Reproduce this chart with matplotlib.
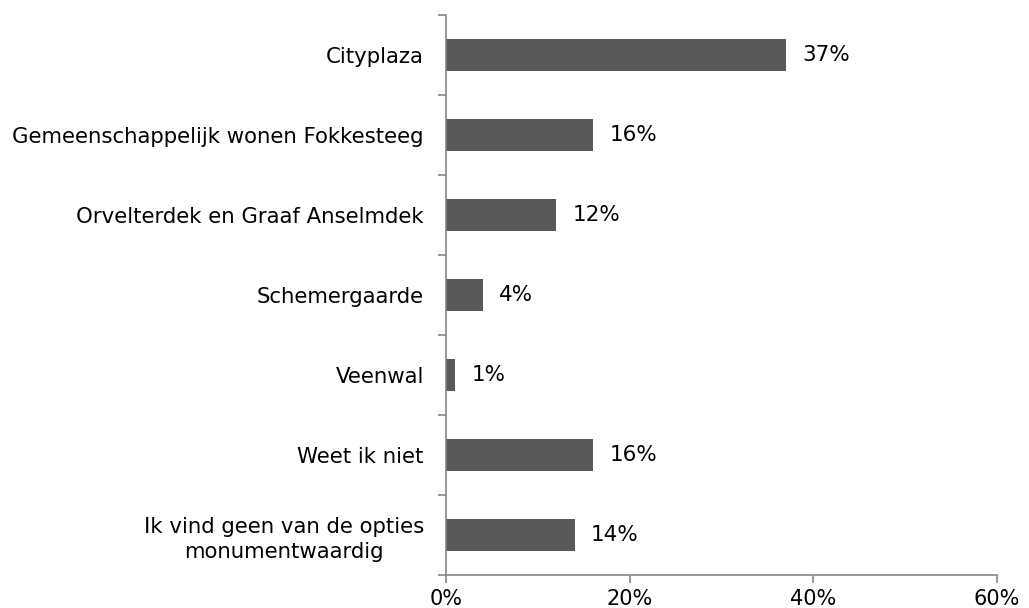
import matplotlib
matplotlib.use("Agg")
import matplotlib.pyplot as plt
import matplotlib.ticker as mticker
import numpy as np

plt.rcParams.update({
    "font.family": "sans-serif",
    "font.sans-serif": ["DejaVu Sans"],
})

# --- Data ---
categories = [
    "Cityplaza",
    "Gemeenschappelijk wonen Fokkesteeg",
    "Orvelterdek en Graaf Anselmdek",
    "Schemergaarde",
    "Veenwal",
    "Weet ik niet",
    "Ik vind geen van de opties\nmonumentwaardig",
]
values = [37, 16, 12, 4, 1, 16, 14]
x_ticks = [0, 20, 40, 60]

bar_color = "#595959"
axis_color = "#868686"

fig = plt.figure(figsize=(10.29, 6.08), dpi=100)
ax = fig.add_axes([446 / 1029, 1 - 575 / 608, 551 / 1029, 560 / 608])

y = np.arange(len(categories))
ax.barh(y, values, height=0.4, color=bar_color, zorder=2)

# value labels just right of each bar
for yi, v in zip(y, values):
    ax.text(v + 1.8, yi, f"{v}%", va="center", ha="left", fontsize=15.5, color="black")

ax.set_xlim(0, 60)
ax.set_ylim(len(categories) - 0.5, -0.5)

ax.set_yticks(y)
ax.set_yticklabels(categories, fontsize=15.3, ha="right")
for lbl in ax.get_yticklabels():
    lbl.set_multialignment("center")
    lbl.set_linespacing(1.3)
# tick marks sit between categories, labels at the centres
ax.yaxis.set_minor_locator(mticker.FixedLocator(np.arange(-0.5, len(categories) + 0.5, 1)))
ax.tick_params(axis="y", which="major", length=0, pad=16)
ax.tick_params(axis="y", which="minor", length=6, color=axis_color, width=1.2, direction="out")

ax.set_xticks(x_ticks)
ax.xaxis.set_major_formatter(mticker.FuncFormatter(lambda v, p: f"{v:.0f}%"))
ax.tick_params(axis="x", length=6, color=axis_color, width=1.2, direction="out", labelsize=15, pad=4)

for s in ["top", "right"]:
    ax.spines[s].set_visible(False)
for s in ["left", "bottom"]:
    ax.spines[s].set_color(axis_color)
    ax.spines[s].set_linewidth(1.2)

fig.savefig("out.png", dpi=100, facecolor="white")
